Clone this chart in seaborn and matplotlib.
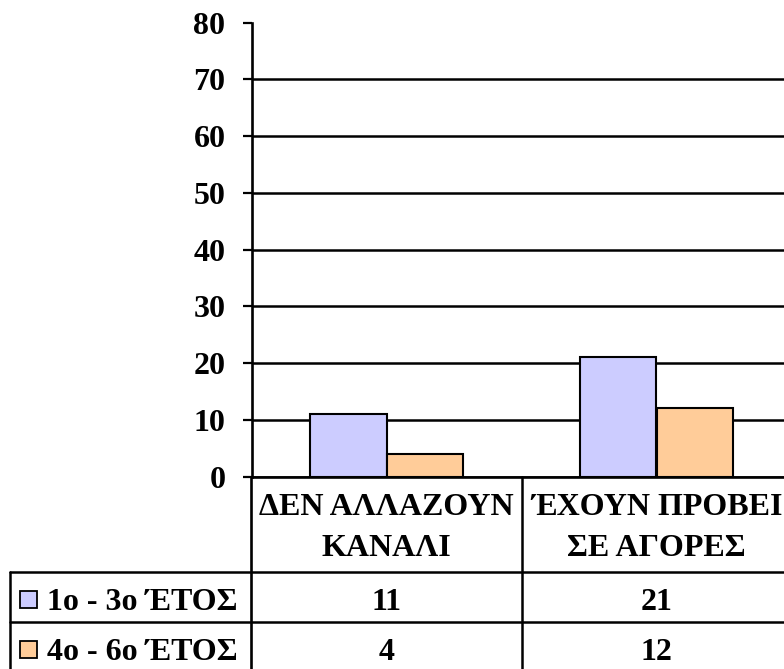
import matplotlib
matplotlib.use("Agg")
import matplotlib.pyplot as plt
import matplotlib.transforms as mtransforms
from matplotlib.patches import Rectangle
import pandas as pd
import seaborn as sns

# Survey counts per answer, split by year of study
categories = ["ΔΕΝ ΑΛΛΑΖΟΥΝ\nΚΑΝΑΛΙ", "ΈΧΟΥΝ ΠΡΟΒΕΙ\nΣΕ ΑΓΟΡΕΣ"]
series_names = ["1ο - 3ο ΈΤΟΣ", "4ο - 6ο ΈΤΟΣ"]
years_1_3 = [11, 21]
years_4_6 = [4, 12]
series_values = [years_1_3, years_4_6]
y_ticks = [0, 10, 20, 30, 40, 50, 60, 70, 80]
colors = ["#CCCCFF", "#FFCC99"]

df = pd.DataFrame(
    [(c, s, v) for s, vals in zip(series_names, series_values)
     for c, v in zip(categories, vals)],
    columns=["category", "series", "value"],
)

sns.set_theme(style="white")
plt.rcParams["font.family"] = ["Liberation Serif", "DejaVu Serif"]
plt.rcParams["font.weight"] = "bold"

FS = 23
W, H = 784, 669
fig = plt.figure(figsize=(W / 100, H / 100), dpi=100)
fig.patch.set_facecolor("white")

# full-figure overlay in pixel units for the data table frame
ov = fig.add_axes([0, 0, 1, 1], zorder=0)
ov.set_xlim(0, W)
ov.set_ylim(H, 0)
ov.axis("off")
ov.patch.set_alpha(0)

# plot area
x0, x1 = 251.5, 791.5
y_top, y_zero = 22.7, 476.5
ax = fig.add_axes([x0 / W, (H - y_zero) / H, (x1 - x0) / W, (y_zero - y_top) / H],
                  zorder=2)
ax.patch.set_alpha(0)

sns.barplot(data=df, x="category", y="value", hue="series", palette=colors,
            width=0.57, edgecolor="black", linewidth=1.5, saturation=1,
            legend=False, ax=ax)

ax.set_xlim(-0.5, 1.5)
ax.set_ylim(0, 80)
ax.set_yticks(y_ticks)
ax.set_yticklabels([str(t) for t in y_ticks], fontsize=FS, fontweight="bold",
                   color="black")
ax.set_xticks([])
ax.set_xlabel("")
ax.set_ylabel("")
ax.tick_params(axis="y", direction="out", length=6.8, width=1.6, pad=12,
               color="black", left=True)
ax.grid(axis="y", color="black", linewidth=1.8)
ax.set_axisbelow(True)
ax.yaxis.get_gridlines()[-1].set_visible(False)
for side in ["top", "right"]:
    ax.spines[side].set_visible(False)
for side in ["left", "bottom"]:
    ax.spines[side].set_color("black")
    ax.spines[side].set_linewidth(1.9)

# data table under the plot
tx = mtransforms.blended_transform_factory(ax.transData, ov.transData)
lw = 1.8
row_top, row_mid, row_bot = 571.7, 621.7, 672
ov.plot([x0, x0], [y_zero, H + 5], color="black", lw=1.9, clip_on=False)
for k in range(len(categories)):
    ov.plot([k + 0.5, k + 0.5], [y_zero, H + 5], color="black", lw=lw,
            transform=tx, clip_on=False)
for yy in (row_top, row_mid, row_bot):
    ov.plot([10, W + 20], [yy, yy], color="black", lw=lw, clip_on=False)
ov.plot([10, 10], [row_top, H + 5], color="black", lw=lw, clip_on=False)

# column headers, one text per line
header_baselines = [515, 556.5]
for k, cat in enumerate(categories):
    for line, yb in zip(cat.split("\n"), header_baselines):
        ov.text(k, yb, line, transform=tx, ha="center", va="baseline",
                fontsize=FS, fontweight="bold", color="black")

# row labels with colour keys, and the values
row_baselines = [610, 660]
for name, vals, col, yb in zip(series_names, series_values, colors, row_baselines):
    ov.add_patch(Rectangle((20.5, yb - 19), 16.5, 16.5, facecolor=col,
                           edgecolor="black", lw=1.3))
    ov.text(47, yb, name, ha="left", va="baseline", fontsize=FS,
            fontweight="bold", color="black")
    for k, v in enumerate(vals):
        ov.text(k, yb, str(v), transform=tx, ha="center", va="baseline",
                fontsize=FS, fontweight="bold", color="black")

fig.savefig("out.png", dpi=100, facecolor="white")
